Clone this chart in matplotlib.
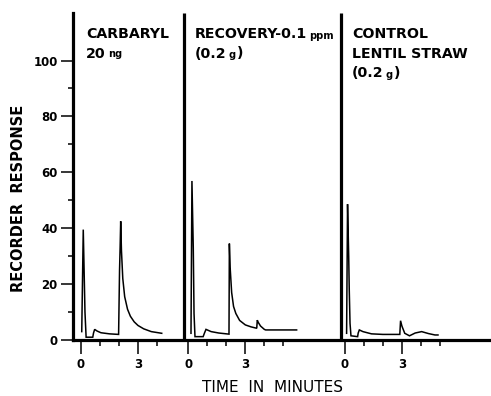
import matplotlib
matplotlib.use("Agg")
import matplotlib.pyplot as plt

plt.rcParams['font.family'] = ['DejaVu Sans']

# ---- data (time in minutes within each run, recorder response) ----
carbaryl_t = [0.04, 0.12, 0.21, 0.27, 0.62, 0.66, 0.72, 0.85, 1.05, 1.5, 1.98,
              2.03, 2.06, 2.09, 2.13, 2.2, 2.3, 2.45, 2.6, 2.8, 3.0, 3.3, 3.7, 4.25]
carbaryl_v = [3.0, 39.5, 10.0, 1.0, 1.0, 2.5, 3.8, 3.2, 2.6, 2.2, 2.0,
              25.0, 33.0, 42.5, 32.0, 22.0, 15.5, 11.0, 8.5, 6.5, 5.2, 4.0, 3.0, 2.4]

recovery_t = [0.14, 0.19, 0.26, 0.30, 0.35, 0.78, 0.85, 0.93, 1.2, 1.6, 2.14,
              2.16, 2.2, 2.28, 2.38, 2.5, 2.7, 3.0, 3.3, 3.6, 3.63, 3.68, 3.8, 4.0, 4.07, 5.7]
recovery_v = [2.4, 56.9, 33.0, 9.5, 1.2, 1.2, 2.5, 3.8, 3.0, 2.5, 2.1,
              34.5, 26.0, 17.0, 12.0, 9.5, 7.0, 5.4, 4.7, 4.2, 7.1, 6.3, 5.0, 3.8, 3.6, 3.6]

control_t = [0.09, 0.14, 0.20, 0.23, 0.27, 0.32, 0.67, 0.70, 0.76, 0.95, 1.4, 2.0,
             2.89, 2.93, 3.0, 3.15, 3.4, 3.7, 4.04, 4.4, 4.74, 4.9]
control_v = [2.4, 48.6, 30.0, 17.9, 6.0, 1.5, 1.2, 2.5, 3.6, 3.0, 2.2, 2.0,
             2.0, 6.9, 5.0, 2.4, 1.5, 2.5, 3.0, 2.3, 1.8, 1.8]

run_offsets = [0.0, 5.65, 13.89]          # chart position of each run's time 0
solvent_front = [None, -0.25, -0.23]      # off-scale solvent line (run time)
run_tick_counts = [5, 6, 6]               # minute ticks 0..n-1
major_minutes = [0, 3]
yticks_major = [0, 20, 40, 60, 80, 100]
yticks_minor = [10, 30, 50, 70, 90]

W, H = 491, 396
fig = plt.figure(figsize=(W / 100, H / 100), dpi=100)
ax = fig.add_axes([73 / W, (396 - 340) / H, (491 - 73) / W, (340 - 13) / H])

traces = [(carbaryl_t, carbaryl_v), (recovery_t, recovery_v), (control_t, control_v)]
for (t, v), off in zip(traces, run_offsets):
    ax.plot([x + off for x in t], v, color='black', lw=1.1, solid_joinstyle='miter')

ymax = 117
for sf, off in zip(solvent_front, run_offsets):
    if sf is not None:
        ax.plot([sf + off, sf + off], [0, ymax], color='black', lw=2.3, solid_capstyle='butt')

ax.set_xlim(-0.42, 21.58)
ax.set_ylim(0, ymax)

maj, lab, mnr = [], [], []
for off, n in zip(run_offsets, run_tick_counts):
    for m in range(n):
        if m in major_minutes:
            maj.append(off + m)
            lab.append(str(m))
        else:
            mnr.append(off + m)
ax.set_xticks(maj, labels=lab)
ax.set_xticks(mnr, minor=True)
ax.set_yticks(yticks_major)
ax.set_yticks(yticks_minor, minor=True)

ax.tick_params(axis='x', which='major', direction='out', length=10, width=1.1, pad=3,
               labelsize=8.5)
ax.tick_params(axis='x', which='minor', direction='out', length=4.5, width=1.1)
ax.tick_params(axis='y', which='major', direction='out', length=9, width=1.1, pad=2,
               labelsize=8.5)
ax.tick_params(axis='y', which='minor', direction='out', length=3.5, width=1.1)
for lbl in ax.get_xticklabels() + ax.get_yticklabels():
    lbl.set_fontweight('bold')

for s in ['top', 'right']:
    ax.spines[s].set_visible(False)
ax.spines['left'].set_linewidth(2.3)
ax.spines['bottom'].set_linewidth(2.3)

# annotations
fs = 10.2
sfs = fs * 0.7
DESC = 0.236  # DejaVu descent fraction of font size


def label_with_small(x, y, big, small, tail=None, d=0.0):
    t1 = ax.text(x, y, big, fontsize=fs, fontweight='bold', va='baseline', ha='left')
    t2 = ax.annotate(small, xy=(1, 0), xycoords=t1,
                     xytext=(1.5, DESC * fs + d), textcoords='offset points',
                     fontsize=sfs, fontweight='bold', va='baseline', ha='left')
    if tail:
        ax.annotate(tail, xy=(1, 0), xycoords=t2,
                    xytext=(0.5, DESC * sfs - d), textcoords='offset points',
                    fontsize=fs, fontweight='bold', va='baseline', ha='left')


ax.text(0.3, 108.0, 'CARBARYL', fontsize=fs, fontweight='bold', va='baseline')
label_with_small(0.28, 101.0, '20', 'ng')
label_with_small(6.0, 108.0, 'RECOVERY-0.1', 'ppm', d=-1.0)
label_with_small(6.0, 101.0, '(0.2', 'g', tail=')', d=-0.5)
ax.text(14.26, 108.0, 'CONTROL', fontsize=fs, fontweight='bold', va='baseline')
ax.text(14.26, 101.0, 'LENTIL STRAW', fontsize=fs, fontweight='bold', va='baseline')
label_with_small(14.26, 94.0, '(0.2', 'g', tail=')', d=-0.5)

fig.text(19 / W, 1 - 198 / H, 'RECORDER  RESPONSE', rotation=90, ha='center',
         va='center', fontsize=10.5, fontweight='bold')
fig.text(272 / W, 1 - 388 / H, 'TIME  IN  MINUTES', ha='center', va='center',
         fontsize=11)

fig.savefig('out.png', dpi=100)
